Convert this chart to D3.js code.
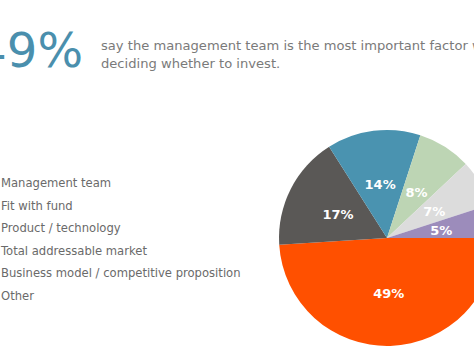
<!DOCTYPE html>
<html>
<head>
<meta charset="utf-8">
<script src="https://cdn.jsdelivr.net/npm/d3@7"></script>
<style>
  html, body { margin: 0; padding: 0; background: #fff; overflow: hidden; }
  svg { display: block; }
</style>
</head>
<body>
<svg id="chart" width="474" height="356"></svg>
<script>
const categories = ["Management team", "Fit with fund", "Product / technology", "Total addressable market", "Business model / competitive proposition", "Other"];
const values = [49, 17, 14, 8, 7, 5];
const colors = ["#ff5000", "#5a5856", "#4a93b0", "#bdd5b4", "#dcdcdc", "#9c8cbb"];
const headline = "49%";
const subtitleLines = ["say the management team is the most important factor when", "deciding whether to invest."];

const font = "'DejaVu Sans', sans-serif";
const svg = d3.select("#chart");

// Headline
svg.append("text")
  .attr("x", 83).attr("y", 67)
  .attr("text-anchor", "end")
  .attr("font-family", font)
  .attr("font-size", 48)
  .attr("fill", "#4a8fad")
  .text(headline);

svg.append("g").selectAll("text").data(subtitleLines).join("text")
  .attr("x", 101).attr("y", (d, i) => 50 + i * 18)
  .attr("font-family", font)
  .attr("font-size", 13.1)
  .attr("fill", "#7a7a7a")
  .text(d => d);

// Legend
svg.append("g").selectAll("text").data(categories).join("text")
  .attr("x", 1).attr("y", (d, i) => 187 + i * 22.5)
  .attr("font-family", font)
  .attr("font-size", 11.6)
  .attr("fill", "#6a6a6a")
  .text(d => d);

// Pie
const cx = 387, cy = 238, r = 108;
const pie = d3.pie().sort(null).value(d => d)
  .startAngle(Math.PI / 2).endAngle(Math.PI / 2 + 2 * Math.PI);
const arcs = pie(values);
const arc = d3.arc().innerRadius(0).outerRadius(r);

const g = svg.append("g").attr("transform", `translate(${cx},${cy})`);
g.selectAll("path").data(arcs).join("path")
  .attr("d", arc)
  .attr("fill", (d, i) => colors[i]);

g.selectAll("text").data(arcs).join("text")
  .attr("transform", d => {
    const a = (d.startAngle + d.endAngle) / 2;
    const lr = 55;
    return `translate(${lr * Math.sin(a)},${-lr * Math.cos(a) + 1})`;
  })
  .attr("text-anchor", "middle")
  .attr("dominant-baseline", "central")
  .attr("font-family", font)
  .attr("font-weight", "bold")
  .attr("font-size", 13)
  .attr("fill", "#ffffff")
  .text(d => d.data + "%");
</script>
</body>
</html>
